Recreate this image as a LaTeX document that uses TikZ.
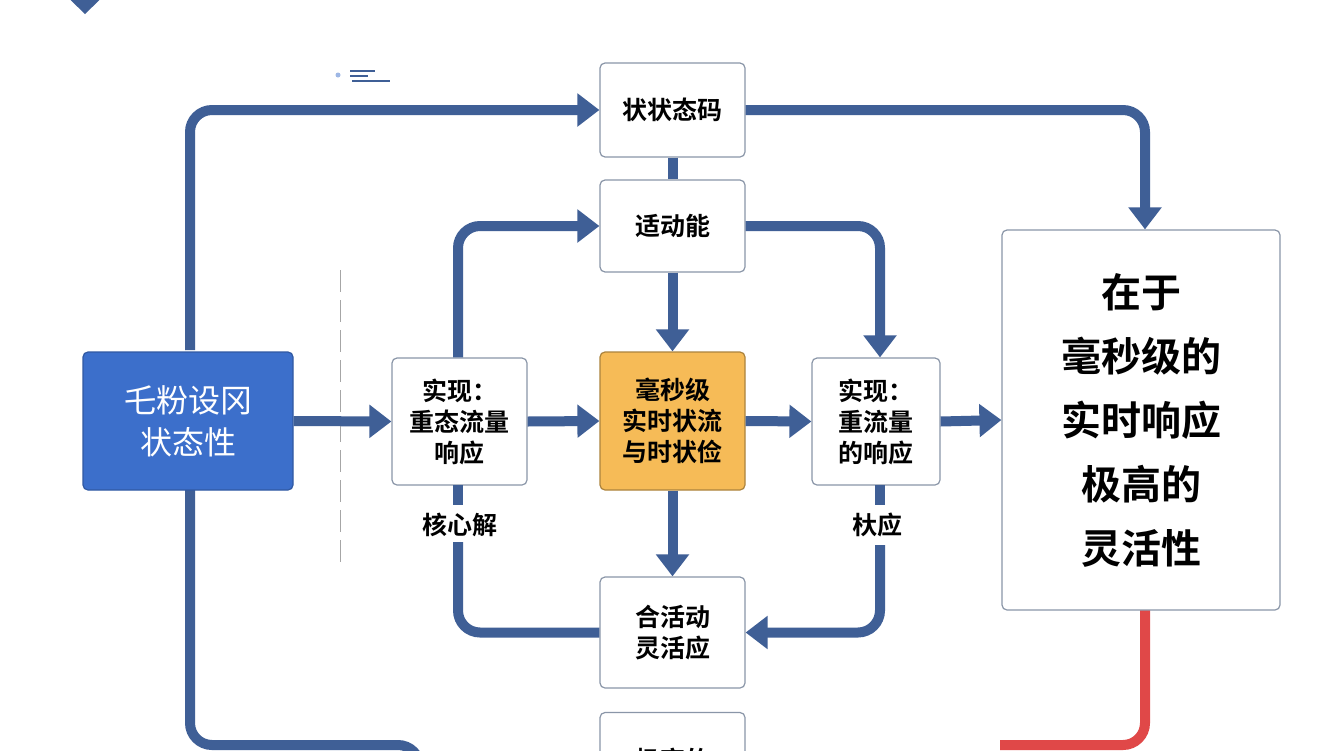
\documentclass[tikz,border=0pt]{standalone}
\usepackage{fontspec}
\setmainfont{Noto Sans CJK SC}[BoldFont={Noto Sans CJK SC Bold}]
\usetikzlibrary{arrows.meta}
\definecolor{ab}{HTML}{3F5F96}
\definecolor{bb}{HTML}{3C6FCB}
\definecolor{og}{HTML}{F6BB57}
\definecolor{rd}{HTML}{E04848}
\definecolor{bd}{HTML}{8A96A8}
\begin{document}
\begin{tikzpicture}[x=1pt,y=-1pt,
 box/.style={draw=bd,line width=1.2pt,fill=white,rounded corners=5pt,align=center,font=\bfseries\fontsize{25}{31}\selectfont,inner sep=0pt},
 arr/.style={draw=ab,line width=10pt,rounded corners=22pt,-{Triangle[length=22pt,width=32pt]}},
 ln/.style={draw=ab,line width=10pt,rounded corners=22pt},
 lab/.style={font=\bfseries\fontsize{25}{30}\selectfont}]
\useasboundingbox (0,0) rectangle (1344,750);
\fill[white!96!blue!3] (0,0) rectangle (1344,750);
\begin{scope}
\clip (0,0) rectangle (1344,750);
\fill[ab] (55,-15) -- (85,14) -- (115,-15) -- cycle;
\fill[bb!50] (338,75) circle (2.5);
\draw[ab,line width=1.2pt] (350,71) -- (375,71) (350,76) -- (368,76) (352,81) -- (390,81);
\draw[gray!70,line width=1pt,dash pattern=on 22pt off 8pt] (340,270) -- (340,565);
\draw[ln] (190,480) -- (190,745) -- (420,745) -- (420,770);
\draw[draw=rd,line width=10pt,rounded corners=22pt] (1145,600) -- (1145,745) -- (1000,745);
\node[box,minimum width=145,minimum height=95] (f) at (672.5,760) {极高的};
\end{scope}

\node[box,minimum width=145,minimum height=94] (a) at (672.5,110) {状状态码};
\node[box,minimum width=145,minimum height=92] (b) at (672.5,226) {适动能};
\node[box,draw=bb!80!black,fill=bb,text=white,minimum width=210,minimum height=138,font=\fontsize{32}{42}\selectfont] (l) at (188,421) {乇粉设冈\\状态性};
\node[box,minimum width=135,minimum height=127] (c) at (459.5,421.5) {实现：\\重态流量\\响应};
\node[box,draw=og!70!black,fill=og,minimum width=145,minimum height=138] (o) at (672.5,421) {毫秒级\\实时状流\\与时状俭};
\node[box,minimum width=128,minimum height=127] (d) at (876,421.5) {实现：\\重流量\\的响应};
\node[box,minimum width=278,minimum height=380,font=\bfseries\fontsize{40}{64}\selectfont] (r) at (1141,420) {在于\\毫秒级的\\实时响应\\极高的\\灵活性};
\node[box,minimum width=145,minimum height=111] (e) at (672.5,632.5) {合活动\\灵活应};
\node[lab] (k1) at (460,525) {核心解};
\node[lab] (k2) at (877,525) {杕应};

\draw[arr] (190,350) |- (a.west);
\draw[ln] (190,350) -- (190,330);
\draw[arr] (a.east) -| (r.north -| 1145,0);
\draw[ln] (a.south) -- (b.north);
\draw[arr] (b.south) -- (o.north);
\draw[arr] (c.north -| 458,0) |- (b.west);
\draw[arr] (b.east) -| (d.north -| 880,0);
\draw[arr] (l.east) -- (c.west);
\draw[arr] (c.east) -- (o.west);
\draw[arr] (o.east) -- (d.west);
\draw[arr] (d.east) -- (r.west);
\draw[arr] (o.south) -- (e.north);
\draw[ln,rounded corners=0] (458,485) -- (458,505);
\draw[ln] (458,542) |- (e.west);
\draw[ln,rounded corners=0] (880,485) -- (880,505);
\draw[arr] (880,545) |- (e.east);
\end{tikzpicture}
\end{document}
